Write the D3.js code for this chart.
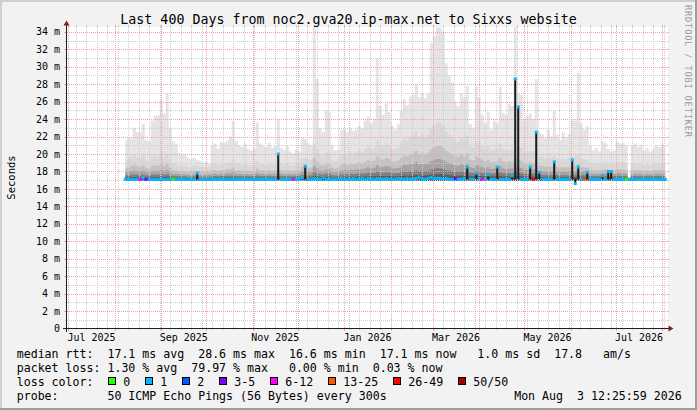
<!DOCTYPE html>
<html><head><meta charset="utf-8">
<script src="https://cdn.jsdelivr.net/npm/d3@7/dist/d3.min.js"></script>
<style>
html,body{margin:0;padding:0;background:#f2f2f2;overflow:hidden;}
svg{display:block;}
text{font-family:"DejaVu Sans Mono","Liberation Mono",monospace;fill:#000;}
</style></head><body>
<svg id="chart" width="697" height="410" xmlns="http://www.w3.org/2000/svg"></svg>
<script>
// ---------------- data ----------------
const titleText = "Last 400 Days from noc2.gva20.ip-max.net to Sixxs website";
const yAxisTitle = "Seconds";
const watermark = "RRDTOOL / TOBI OETIKER";
const yTickValues = [0,2,4,6,8,10,12,14,16,18,20,22,24,26,28,30,32,34];
const xLabelMonths = ["2025-07","2025-09","2025-11","2026-01","2026-03","2026-05","2026-07"];
const timeStart = new Date(2025,5,29,12,26);
const timeEnd   = new Date(2026,7,3,12,26);
const dataStart = new Date(2025,7,8);
const stepDays = 2;

// smoke top (max ping, ms) every 2 days
const smokeTop = [
21.6,21.8,21.8,23.0,22.5,22.5,23.5,21.6,21.5,23.8,
24.4,24.4,26.2,24.6,26.9,23.0,21.5,21.2,20.1,19.9,
20.0,19.6,19.4,19.6,19.3,19.2,19.0,19.1,18.9,21.0,
21.2,20.6,21.4,21.3,21.5,22.0,23.8,21.5,21.0,20.8,
21.2,20.6,20.4,20.6,23.6,21.2,21.0,20.8,21.3,20.7,
20.9,24.0,20.7,20.5,20.9,20.3,20.1,20.5,20.3,21.8,
21.7,21.2,21.0,34.5,28.6,23.0,22.5,25.0,24.8,21.0,
20.4,20.5,22.7,22.9,22.5,23.0,22.6,22.8,23.2,22.9,
23.8,24.3,23.5,24.0,31.0,25.5,24.5,25.8,24.8,23.2,
22.8,23.4,25.0,26.3,25.6,26.6,26.8,28.0,26.5,27.0,
26.4,26.9,32.7,33.5,34.5,34.5,34.0,30.4,29.0,28.2,
26.0,25.5,27.0,26.5,27.8,23.4,23.0,27.7,26.5,24.5,
23.5,24.8,22.8,23.8,23.5,27.7,24.7,24.5,25.8,25.5,
35.0,27.0,26.8,23.9,24.3,24.6,24.0,28.6,22.5,22.3,
21.8,22.8,22.0,25.0,22.2,21.6,22.5,21.8,22.3,24.0,
23.8,29.3,23.5,22.8,23.2,20.9,20.4,20.7,20.3,21.5,
21.3,20.6,20.3,20.5,21.4,21.2,21.3,21.0,17.3,21.0,
21.2,20.8,21.1,20.4,20.7,20.3,20.6,21.0,20.8,21.1,
20.9];

// height (ms) of the dense part of the smoke above the usual median
const smokeSpread = [
1.2,1.3,1.5,1.6,1.5,1.4,1.6,1.3,1.2,1.5,
1.6,1.5,1.8,1.5,1.7,1.3,1.0,1.0,0.9,0.9,
0.9,0.8,0.8,0.9,0.9,0.8,0.8,0.8,0.8,1.0,
1.0,0.9,1.0,1.0,1.1,1.1,1.3,1.0,1.0,0.9,
1.0,0.9,0.9,0.9,1.2,1.0,1.0,0.9,1.0,0.9,
1.0,1.2,1.0,0.9,1.0,0.9,0.9,1.0,1.0,1.4,
1.4,1.3,1.3,2.4,2.0,1.6,1.5,1.8,1.8,1.3,
1.2,1.3,1.6,1.7,1.6,1.8,1.7,1.8,1.9,1.8,
2.0,2.2,2.0,2.1,2.6,2.3,2.2,2.4,2.3,2.0,
2.0,2.1,2.4,2.7,2.6,2.8,2.9,3.2,2.8,3.0,
2.8,3.0,3.4,3.6,3.8,3.8,3.6,3.2,3.0,2.8,
2.6,2.5,2.8,2.6,2.9,2.2,2.1,2.6,2.4,2.2,
2.0,2.2,1.9,2.0,2.0,2.4,2.0,1.9,2.0,2.0,
2.6,2.2,2.1,1.8,1.8,1.9,1.8,2.0,1.5,1.5,
1.4,1.5,1.4,1.6,1.4,1.3,1.4,1.3,1.4,1.5,
1.5,1.7,1.4,1.3,1.3,1.1,1.0,1.0,1.0,1.1,
1.1,1.0,1.0,1.0,1.1,1.1,1.1,1.0,0.0,1.0,
1.0,1.0,1.0,0.9,1.0,0.9,1.0,1.0,1.0,1.0,
1.0];

// median rtt (ms)
const medianRtt = [
17.1,17.1,17.1,17.1,17.1,17.1,17.3,17.1,17.1,17.1,
17.1,17.1,17.1,17.1,17.1,17.1,17.1,17.1,17.1,17.1,
17.1,17.1,17.1,17.1,17.8,17.1,17.1,17.1,17.1,17.1,
17.1,17.1,17.1,17.1,17.1,17.1,17.1,17.1,17.1,17.1,
17.1,17.1,17.1,17.1,17.1,17.1,17.1,17.1,17.1,17.1,
17.1,20.0,17.1,17.1,17.1,17.1,17.1,17.1,17.1,17.3,
18.6,17.1,17.1,17.2,17.1,17.1,17.3,17.1,17.1,17.1,
17.1,17.1,17.2,17.1,17.1,17.1,17.2,17.1,17.1,17.2,
17.1,17.2,17.1,17.1,17.2,17.1,17.1,17.2,17.1,17.1,
17.1,17.2,17.1,17.1,17.2,17.1,17.1,17.2,17.3,17.1,
17.1,17.2,17.3,17.2,17.2,17.2,17.1,17.2,17.1,17.1,
17.2,17.1,17.1,17.2,18.5,17.1,17.1,17.8,17.2,17.1,
17.1,17.6,17.1,17.1,18.5,17.1,17.1,17.1,17.1,17.5,
28.6,25.4,17.1,17.1,17.1,18.5,17.1,22.5,17.9,17.1,
17.1,17.1,17.1,19.1,17.1,17.1,17.1,17.1,17.1,19.3,
16.6,18.5,17.1,17.1,17.9,17.1,17.1,17.1,17.1,17.5,
17.1,18.0,18.0,17.1,17.1,17.1,17.1,17.1,17.1,17.1,
17.1,17.1,17.1,17.1,17.1,17.1,17.1,17.1,17.1,17.1,
17.1];

// packet loss bucket index (into lossLabels)
const lossBucket = [
1,1,1,1,1,4,1,3,1,1,
1,1,1,1,1,1,0,1,1,1,
1,1,1,1,1,1,1,1,1,1,
1,1,1,1,1,1,1,1,1,1,
1,1,1,1,1,1,1,1,1,1,
1,1,1,1,1,1,4,1,1,1,
1,1,1,1,1,1,1,1,1,1,
1,1,1,1,1,1,1,1,1,1,
1,1,1,1,1,1,1,1,1,1,
1,1,1,1,1,1,1,1,1,1,
1,1,1,1,1,1,1,1,1,1,
3,1,1,1,1,1,1,1,1,4,
1,1,1,1,1,1,1,1,1,1,
1,1,1,1,1,1,6,1,1,1,
1,1,1,1,1,1,1,1,1,1,
1,1,1,5,1,1,1,1,1,1,
1,1,1,1,1,1,1,0,1,1,
1,1,1,1,1,1,1,1,1,1,
1];

const lossLabels = ["0","1","2","3-5","6-12","13-25","26-49","50/50"];
const lossColors = ["#26ff00","#00b8ff","#0059ff","#7e00ff","#ff00ff","#ff5500","#ff0000","#a00000"];

const legendRtt  = "median rtt:  17.1 ms avg  28.6 ms max  16.6 ms min  17.1 ms now   1.0 ms sd  17.8   am/s";
const legendLoss = "packet loss: 1.30 % avg  79.97 % max   0.00 % min  0.03 % now";
const legendLossTitle = "loss color:";
const legendProbe = "probe:       50 ICMP Echo Pings (56 Bytes) every 300s";
const legendStamp = "Mon Aug  3 12:25:59 2026";

// ---------------- drawing ----------------
const W = 697, H = 410;
const X0 = 67, X1 = 667, Y0 = 328, Y1 = 27;
const svg = d3.select("#chart");

const x = d3.scaleTime().domain([timeStart, timeEnd]).range([66, 666]);
const y = d3.scaleLinear().domain([0, 34.5]).range([328.5, 27.5]);

// background + frame
svg.append("rect").attr("width", W).attr("height", H).attr("fill", "#f2f2f2");
svg.append("rect").attr("x",0).attr("y",0).attr("width",W).attr("height",2).attr("fill","#cfcfcf");
svg.append("rect").attr("x",0).attr("y",0).attr("width",2).attr("height",H).attr("fill","#cfcfcf");
svg.append("rect").attr("x",0).attr("y",H-2).attr("width",W).attr("height",2).attr("fill","#9e9e9e");
svg.append("rect").attr("x",W-2).attr("y",0).attr("width",2).attr("height",H).attr("fill","#9e9e9e");

// canvas
svg.append("rect").attr("x", X0).attr("y", Y1).attr("width", X1 - X0 + 1).attr("height", Y0 - Y1 + 1).attr("fill", "#fff");

svg.append("clipPath").attr("id","plotclip").append("rect")
  .attr("x", X0).attr("y", Y1).attr("width", X1 - X0 + 1).attr("height", Y0 - Y1 + 1);

const idx = d3.range(smokeTop.length);
const dates = idx.map(i => d3.timeDay.offset(dataStart, i * stepDays));
const xi = i => x(dates[i]);

// smoke
const smokeG = svg.append("g").attr("clip-path", "url(#plotclip)");
const smokeBase = 16.9, smokeFloor = 17.15;
const layers = [
  {c:"#e4e4e4", f:null},
  {c:"#d8d8d8", f:1.7},
  {c:"#c2c2c2", f:1.0},
  {c:"#a4a4a4", f:0.6},
  {c:"#808080", f:0.32},
  {c:"#5a5a5a", f:0.14}
];
layers.forEach(L => {
  const lv = i => L.f === null ? smokeTop[i] : Math.min(smokeTop[i], smokeFloor + smokeSpread[i] * L.f);
  const area = d3.area().curve(d3.curveStep)
    .x(i => xi(i)).y0(y(smokeBase)).y1(i => y(Math.max(smokeBase, lv(i))));
  smokeG.append("path").attr("d", area(idx)).attr("fill", L.c);
});

// grid
const gridG = svg.append("g").attr("shape-rendering", "crispEdges");
const px = v => Math.round(v) + 0.5;
const minorCol = "#cdcdcd", majorCol = "#efa2a2";
d3.timeSunday.range(timeStart, timeEnd).forEach(d => {
  const xx = px(x(d));
  if (xx < X0 || xx > X1) return;
  gridG.append("line").attr("x1",xx).attr("x2",xx).attr("y1",Y1).attr("y2",Y0)
    .attr("stroke",minorCol).attr("stroke-dasharray","1,1");
  gridG.append("line").attr("x1",xx).attr("x2",xx).attr("y1",Y0).attr("y2",Y0+2).attr("stroke",minorCol);
  gridG.append("line").attr("x1",xx).attr("x2",xx).attr("y1",Y1-2).attr("y2",Y1).attr("stroke",minorCol);
});
d3.range(1, 35, 2).forEach(v => {
  const yy = px(y(v));
  gridG.append("line").attr("x1",X0).attr("x2",X1).attr("y1",yy).attr("y2",yy)
    .attr("stroke",minorCol).attr("stroke-dasharray","1,1");
  gridG.append("line").attr("x1",X0-2).attr("x2",X0).attr("y1",yy).attr("y2",yy).attr("stroke",minorCol);
  gridG.append("line").attr("x1",X1).attr("x2",X1+2).attr("y1",yy).attr("y2",yy).attr("stroke",minorCol);
});
d3.timeMonth.range(timeStart, timeEnd).forEach(d => {
  const xx = px(x(d));
  if (xx < X0 || xx > X1) return;
  gridG.append("line").attr("x1",xx).attr("x2",xx).attr("y1",Y1).attr("y2",Y0)
    .attr("stroke",majorCol).attr("stroke-dasharray","1,1");
  gridG.append("line").attr("x1",xx).attr("x2",xx).attr("y1",Y0).attr("y2",Y0+3).attr("stroke",majorCol);
  gridG.append("line").attr("x1",xx).attr("x2",xx).attr("y1",Y1-2).attr("y2",Y1).attr("stroke",majorCol);
});
yTickValues.filter(v => v > 0).forEach(v => {
  const yy = px(y(v));
  gridG.append("line").attr("x1",X0).attr("x2",X1).attr("y1",yy).attr("y2",yy)
    .attr("stroke",majorCol).attr("stroke-dasharray","1,1");
  gridG.append("line").attr("x1",X0-3).attr("x2",X0).attr("y1",yy).attr("y2",yy).attr("stroke",majorCol);
  gridG.append("line").attr("x1",X1).attr("x2",X1+2).attr("y1",yy).attr("y2",yy).attr("stroke",majorCol);
});

// median: thin dark bar from the usual level up to the median (visible at spikes) + loss coloured band
const medG = svg.append("g").attr("clip-path", "url(#plotclip)");
medG.selectAll("rect.stem").data(idx).enter().append("rect")
  .attr("class","stem")
  .attr("x", i => xi(i) - 1).attr("width", 2)
  .attr("y", i => y(Math.max(smokeFloor, medianRtt[i])))
  .attr("height", i => Math.abs(y(smokeFloor) - y(medianRtt[i])))
  .attr("fill", "#1a1a1a");
medG.selectAll("rect.band").data(idx).enter().append("rect")
  .attr("class","band")
  .attr("x", i => xi(i) - 1.5).attr("width", 3)
  .attr("y", i => y(medianRtt[i]) - 1.5).attr("height", 3)
  .attr("fill", i => lossColors[lossBucket[i]]);

// axes
const axG = svg.append("g").attr("shape-rendering","crispEdges");
axG.append("line").attr("x1",X0-4).attr("x2",X1+3).attr("y1",Y0+0.5).attr("y2",Y0+0.5).attr("stroke","#1f1f1f");
axG.append("line").attr("x1",X0-0.5).attr("x2",X0-0.5).attr("y1",Y0+4).attr("y2",Y1-3).attr("stroke","#1f1f1f");
svg.append("path").attr("d",`M${X0-3.5},${Y1-1.5}L${X0+2.5},${Y1-1.5}L${X0-0.5},${Y1-6.5}Z`).attr("fill","#801f1f");
svg.append("path").attr("d",`M${X1+1.5},${Y0-2.5}L${X1+1.5},${Y0+3.5}L${X1+6.5},${Y0+0.5}Z`).attr("fill","#801f1f");

// y tick labels
svg.append("g").selectAll("text").data(yTickValues).enter().append("text")
  .attr("x", 60).attr("y", v => y(v) + 3.6)
  .attr("text-anchor","end").attr("font-size","10px")
  .text(v => v === 0 ? "0" : v + " m");

// x tick labels (centred on the month)
const fmt = d3.timeFormat("%b %Y");
const parseM = d3.timeParse("%Y-%m");
svg.append("g").selectAll("text").data(xLabelMonths.map(parseM)).enter().append("text")
  .attr("x", d => (x(d) + x(d3.timeMonth.offset(d,1))) / 2)
  .attr("y", 340.5).attr("text-anchor","middle").attr("font-size","10px")
  .text(d => fmt(d));

// title
svg.append("text").attr("x", 348.5).attr("y", 23.5).attr("text-anchor","middle")
  .attr("font-size","13.3px").text(titleText);
// y axis title
svg.append("text").attr("transform","translate(15,177.5) rotate(-90)")
  .attr("text-anchor","middle").attr("font-size","10.5px").text(yAxisTitle);
// watermark
svg.append("text").attr("transform","translate(684.5,5) rotate(90)")
  .attr("font-size","8.6px").attr("textLength",132).attr("lengthAdjust","spacing")
  .style("fill","#9a9a9a").text(watermark);

// legend
const LX = 16.7, LF = "11.6px";
const rows = [[legendRtt, 358.3],[legendLoss, 372.2],[legendLossTitle, 386],[legendProbe, 400]];
rows.forEach(r => {
  svg.append("text").attr("x", LX).attr("y", r[1]).attr("font-size", LF)
    .attr("xml:space","preserve").style("white-space","pre").text(r[0]);
});
svg.append("text").attr("x", 681.7).attr("y", 400).attr("font-size", LF)
  .attr("text-anchor","end").attr("xml:space","preserve").style("white-space","pre").text(legendStamp);

let bx = 108.3;
lossLabels.forEach((lab, k) => {
  svg.append("rect").attr("x", Math.round(bx) + 0.5).attr("y", 377.5).attr("width", 7).attr("height", 7)
    .attr("fill", lossColors[k]).attr("stroke", "#000").attr("stroke-width", 1)
    .attr("shape-rendering","crispEdges");
  svg.append("text").attr("x", bx + 15).attr("y", 386).attr("font-size", LF).text(lab);
  bx = bx + 15 + lab.length * 7 + 15;
});
</script>
</body></html>
